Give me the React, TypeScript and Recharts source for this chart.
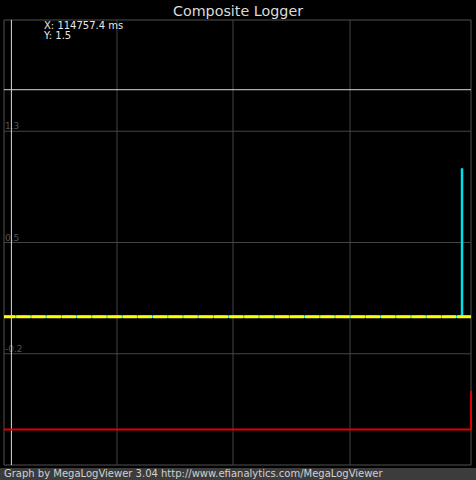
import React from 'react';
import { ComposedChart, Line, XAxis, YAxis, ReferenceLine, ReferenceArea } from 'recharts';

// time axis (ms) and value axis
const xDomain = [114750, 115217];
const yDomain = [-1, 2];
const xGrid = [114863, 114979, 115096];
const yGrid = [1.25, 0.5, -0.25];
const yGridLabels = ['1.3', '0.5', '-0.2'];

// traces
const triggerData = [
  { t: 114750, v: 0 },
  { t: 115217, v: 0 },
];
const toothData = [
  { t: 114750, v: 0 },
  { t: 115208, v: 0 },
  { t: 115208, v: 1.0 },
  { t: 115208, v: 0 },
  { t: 115217, v: 0 },
];
const syncData = [
  { t: 114750, v: -0.76 },
  { t: 115217, v: -0.76 },
  { t: 115217, v: -0.5 },
];

// cursor
const cursorX = 114757.4;
const cursorY = 1.53;
const cursorText = ['X: 114757.4 ms', 'Y: 1.5'];

const font = '"DejaVu Sans", Verdana, sans-serif';

const GridLabel = ({ viewBox, value }: any) => (
  <text x={viewBox.x + 1} y={viewBox.y - 2} fill="#555" fontSize={9} fontFamily={font}>
    {value}
  </text>
);

export default function App() {
  return (
    <div style={{ position: 'fixed', left: 0, top: 0, width: 476, height: 480, background: '#000', overflow: 'hidden' }}>
      <div
        style={{
          position: 'absolute', left: 0, top: 1, width: 476, textAlign: 'center',
          color: '#dcdcdc', fontFamily: font, fontSize: 14.3, lineHeight: '20px',
        }}
      >
        Composite Logger
      </div>
      <ComposedChart width={476} height={480} margin={{ top: 20, right: 5, bottom: 15, left: 4 }}>
        <XAxis dataKey="t" type="number" domain={xDomain} hide allowDuplicatedCategory={false} />
        <YAxis type="number" domain={yDomain} hide />
        <ReferenceArea x1={xDomain[0]} x2={xDomain[1]} y1={yDomain[0]} y2={yDomain[1]} fill="none" stroke="#505050" strokeWidth={1} />
        {xGrid.map((x) => (
          <ReferenceLine key={'x' + x} x={x} stroke="#444" strokeWidth={1} />
        ))}
        {yGrid.map((y, i) => (
          <ReferenceLine key={'y' + y} y={y} stroke="#444" strokeWidth={1} label={<GridLabel value={yGridLabels[i]} />} />
        ))}
        <ReferenceLine x={cursorX} stroke="#d8d8d8" strokeWidth={1} />
        <ReferenceLine y={cursorY} stroke="#d8d8d8" strokeWidth={1} />
        <Line data={syncData} dataKey="v" type="linear" stroke="#e00000" strokeWidth={2} dot={false} isAnimationActive={false} />
        <Line data={toothData} dataKey="v" type="linear" stroke="#00e0ea" strokeWidth={2.5} dot={false} isAnimationActive={false} />
        <Line
          data={triggerData}
          dataKey="v"
          type="linear"
          stroke="#ffff00"
          strokeWidth={3}
          strokeDasharray="14.2 1"
          strokeDashoffset={2.9}
          dot={false}
          isAnimationActive={false}
        />
      </ComposedChart>
      <div style={{ position: 'absolute', left: 44, top: 21, color: '#e8e8e8', fontFamily: font, fontSize: 10, lineHeight: '10px' }}>
        {cursorText.map((s) => (
          <div key={s}>{s}</div>
        ))}
      </div>
      <div
        style={{
          position: 'absolute', left: 0, top: 468, width: 476, height: 12, background: '#3c3c3c',
          color: '#d0d0d0', fontFamily: font, fontSize: 10, lineHeight: '12px', paddingLeft: 4, whiteSpace: 'nowrap',
        }}
      >
        Graph by MegaLogViewer 3.04 http://www.efianalytics.com/MegaLogViewer
      </div>
    </div>
  );
}
